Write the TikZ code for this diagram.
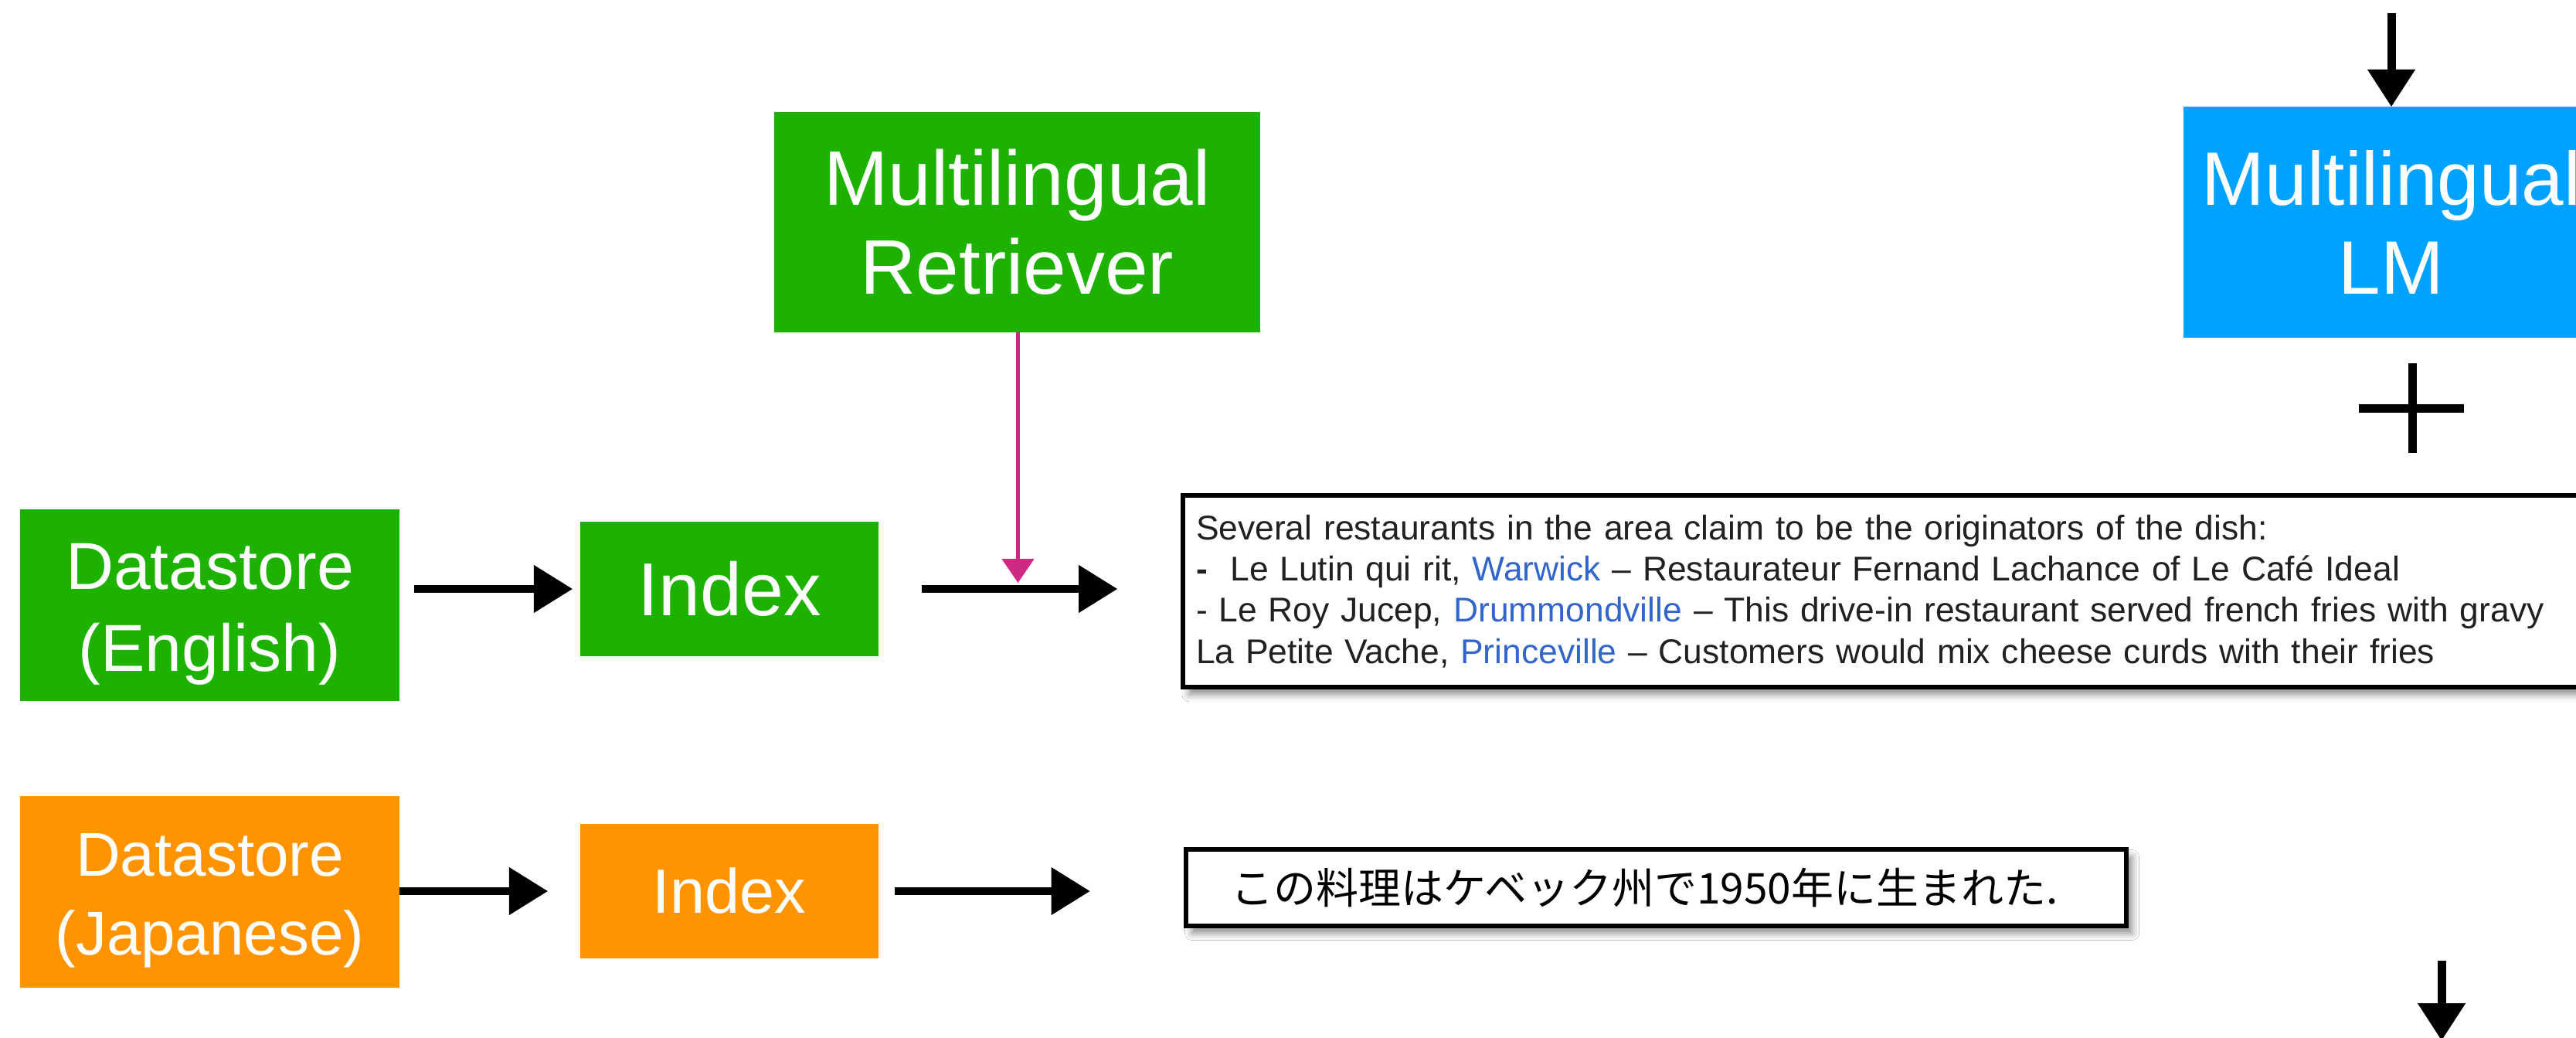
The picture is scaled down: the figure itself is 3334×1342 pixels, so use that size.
\documentclass[tikz,border=0pt]{standalone}
\usepackage{fontspec}
\setmainfont{Liberation Sans}
\newfontfamily\jpfont{Noto Sans CJK JP}
\usetikzlibrary{arrows.meta,shadows.blur}
\definecolor{kgreen}{HTML}{1DB100}
\definecolor{korange}{HTML}{FF9300}
\definecolor{kblue}{HTML}{00A2FF}
\definecolor{kmag}{HTML}{CE2A85}
\definecolor{wtext}{HTML}{202122}
\definecolor{wlink}{HTML}{3366CC}
\tikzset{
  kbox/.style={inner sep=0pt, text=white, align=center},
  harrow/.style={draw=black, line width=10pt, -{Triangle[length=50pt,width=62pt,line width=1pt]}},
  varrow/.style={draw=black, line width=11pt, -{Triangle[length=48pt,width=62pt,line width=1pt]}},
  marrow/.style={draw=kmag, line width=5pt, -{Triangle[length=31pt,width=42pt,line width=1pt]}},
  plusline/.style={draw=black, line width=11pt},
  textbox/.style={draw=black, line width=6pt, fill=white, inner ysep=0pt, align=left,
    blur shadow={shadow xshift=8pt, shadow yshift=-10pt, shadow blur radius=9pt, shadow opacity=45}},
}
\newcommand{\wl}[1]{\textcolor{wlink}{#1}}
\begin{document}
\begin{tikzpicture}[x=1pt,y=-1pt]
\fill[white] (0,0) rectangle (3334,1342);
\useasboundingbox (0,0) rectangle (3334,1342);

% boxes
\node[kbox, fill=kgreen, minimum width=629pt, minimum height=285pt,
  font=\fontsize{100}{115}\selectfont] (retr) at (1316.5,287.5) {Multilingual\\Retriever};
\node[kbox, fill=kblue, minimum width=538pt, minimum height=299pt,
  font=\fontsize{98}{115}\selectfont] (lm) at (3095,287.5) {Multilingual\\LM};
\node[kbox, fill=kgreen, minimum width=491pt, minimum height=248pt,
  font=\fontsize{86}{106}\selectfont] (ds1) at (271.5,783) {\rule{0pt}{82pt}Datastore\\(English)};
\node[kbox, fill=kgreen, minimum width=386pt, minimum height=174pt,
  font=\fontsize{97}{110}\selectfont] (idx1) at (944,762) {Index};
\node[kbox, fill=korange, minimum width=491pt, minimum height=248pt,
  font=\fontsize{80}{102}\selectfont] (ds2) at (271.5,1154) {\rule{0pt}{77pt}Datastore\\(Japanese)};
\node[kbox, fill=korange, minimum width=386pt, minimum height=174pt,
  font=\fontsize{81}{95}\selectfont] (idx2) at (944,1153) {Index};

% retrieved passages
\node[textbox, minimum width=1889pt, minimum height=247.5pt, inner xsep=17pt, text width=1855pt,
  text=wtext, font=\fontsize{44.4}{53.3}\selectfont] (en) at (2475.5,765)
  {Several restaurants in the area claim to be the originators of the dish:\\
   \textbf{-}\ \ Le Lutin qui rit, \wl{Warwick} \textendash{} Restaurateur Fernand Lachance of Le Café Ideal\\
   - Le Roy Jucep, \wl{Drummondville} \textendash{} This drive-in restaurant served french fries with gravy\\
   La Petite Vache, \wl{Princeville} \textendash{} Customers would mix cheese curds with their fries};
\node[textbox, minimum width=1217pt, minimum height=99pt, inner xsep=58.5pt, text width=1100pt,
  text=black, font=\jpfont\fontsize{55}{62}\selectfont] (jp) at (2143,1148)
  {この料理はケベック州で1950年に生まれた.};

% connectors
\draw[harrow, shorten <=19pt, shorten >=10pt] (ds1.east |- idx1.west) -- (idx1.west);
\draw[harrow, shorten <=56pt, shorten >=82pt] (idx1.east) -- (en.west |- idx1.east);
\draw[harrow, shorten >=42pt] (ds2.east |- idx2.west) -- (idx2.west);
\draw[harrow, shorten <=21pt, shorten >=121pt] (idx2.east) -- (jp.west |- idx2.east);

\coordinate (m) at (1317.5,754);
\draw[marrow] (retr.south -| m) -- (m);

\coordinate (lmin) at (3095,17);
\draw[varrow] (lmin) -- (lm.north);

\coordinate (plus) at (3122,528);
\draw[plusline] (plus) ++(0,-58) -- ++(0,116);
\draw[plusline] (plus) ++(-69,0) -- ++(136,0);

\coordinate (outa) at (3160,1243);
\coordinate (outb) at (3160,1346);
\draw[varrow] (outa) -- (outb);
\end{tikzpicture}
\end{document}
